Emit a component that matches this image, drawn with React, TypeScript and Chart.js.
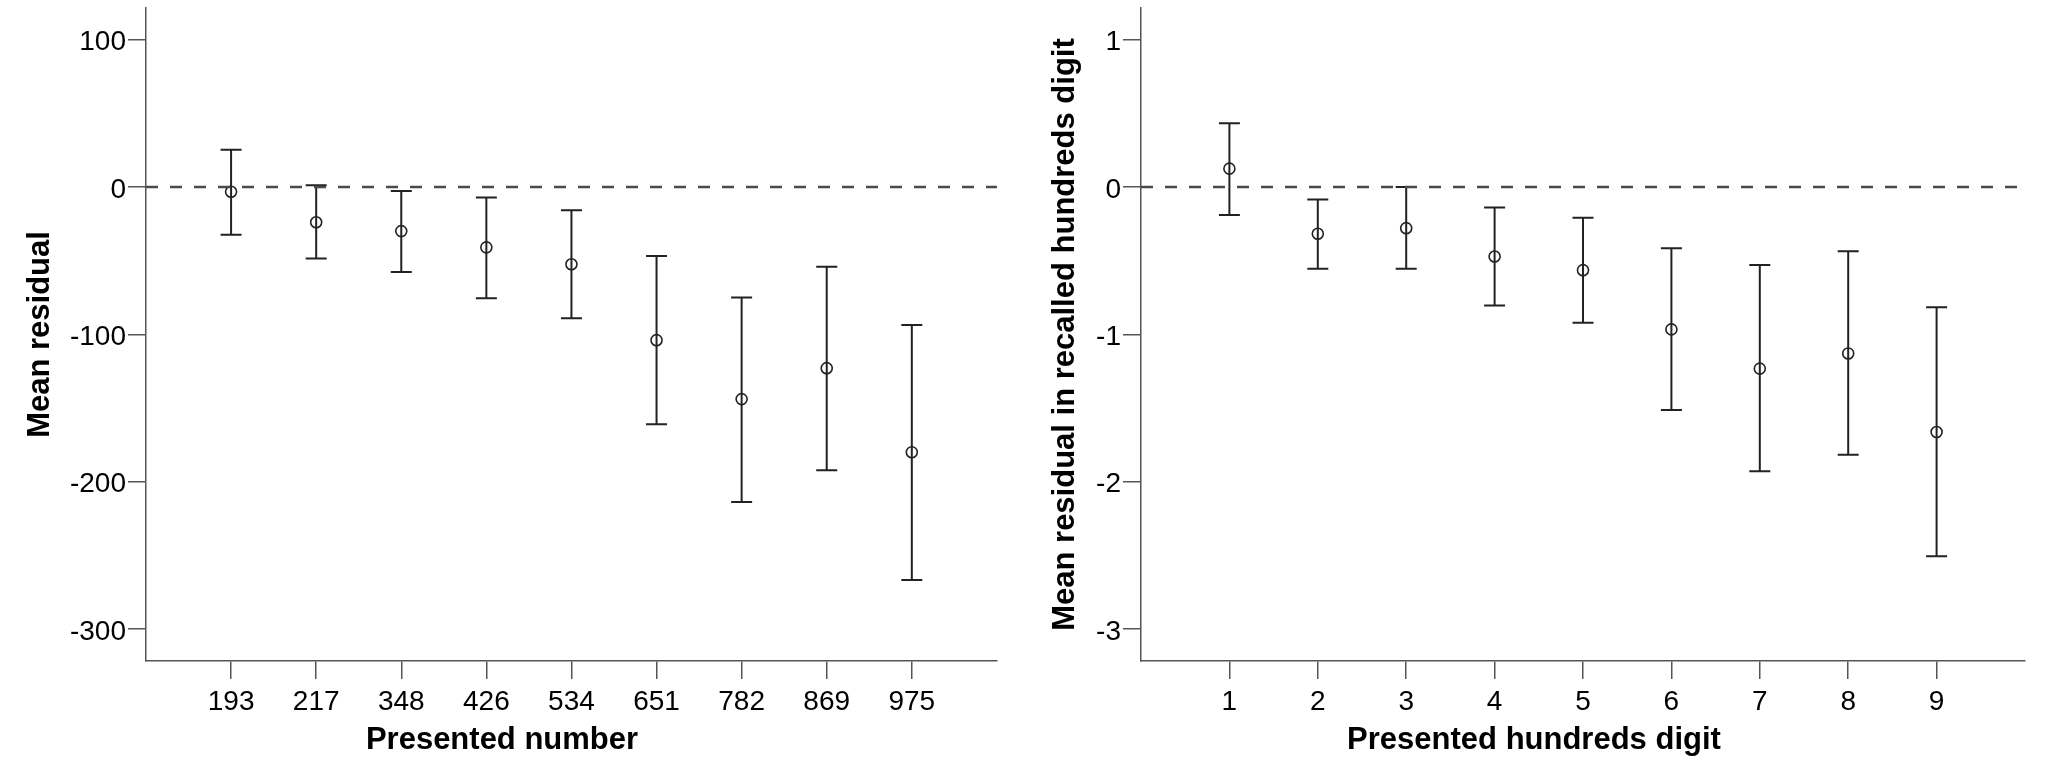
import { useEffect, useRef } from "react";
import { Chart, registerables } from "chart.js";

Chart.register(...registerables);

const FONT = "'Liberation Sans', Arial, Helvetica, sans-serif";

// left panel: presented number
const numberLabels = ["193", "217", "348", "426", "534", "651", "782", "869", "975"];
const numberMeans = [-3.3, -24, -30, -41, -52.5, -104, -144, -123, -180];
const numberUpper = [25.2, 1.2, -2.7, -7.2, -15.8, -46.9, -75.1, -54.1, -93.7];
const numberLower = [-32.4, -48.6, -57.7, -75.5, -89.2, -161, -213.8, -192.3, -266.7];
const numberTicks = [100, 0, -100, -200, -300];

// right panel: presented hundreds digit
const digitLabels = ["1", "2", "3", "4", "5", "6", "7", "8", "9"];
const digitMeans = [0.124, -0.318, -0.28, -0.472, -0.565, -0.967, -1.233, -1.13, -1.663];
const digitUpper = [0.432, -0.085, 0.0, -0.14, -0.21, -0.417, -0.53, -0.437, -0.817];
const digitLower = [-0.19, -0.555, -0.556, -0.805, -0.922, -1.513, -1.93, -1.817, -2.507];
const digitTicks = [1, 0, -1, -2, -3];

type PanelProps = {
  labels: string[];
  means: number[];
  upper: number[];
  lower: number[];
  yTicks: number[];
  yMin: number;
  yMax: number;
  yTitle: string;
  xTitle: string;
  yAxisWidth: number;
  yTitlePad: number;
  padRight: number;
};

function errorBarPlugin(upper: number[], lower: number[]) {
  return {
    id: "errorBars",
    beforeDatasetsDraw(chart: any) {
      const { ctx, scales } = chart;
      const x = scales.x;
      const y = scales.y;
      ctx.save();
      ctx.strokeStyle = "#222";
      ctx.lineWidth = 2;
      upper.forEach((u, i) => {
        const px = x.getPixelForValue(i + 1);
        const top = y.getPixelForValue(u);
        const bot = y.getPixelForValue(lower[i]);
        ctx.beginPath();
        ctx.moveTo(px, top);
        ctx.lineTo(px, bot);
        ctx.moveTo(px - 10.5, top);
        ctx.lineTo(px + 10.5, top);
        ctx.moveTo(px - 10.5, bot);
        ctx.lineTo(px + 10.5, bot);
        ctx.stroke();
      });
      ctx.restore();
    },
  };
}

// x title is centred on the whole panel, not on the plot area
function xTitlePlugin(text: string) {
  return {
    id: "xTitle",
    afterDraw(chart: any) {
      const { ctx } = chart;
      ctx.save();
      ctx.font = `bold 31px ${FONT}`;
      ctx.fillStyle = "#000";
      ctx.textAlign = "center";
      ctx.textBaseline = "alphabetic";
      ctx.fillText(text, chart.width / 2, 749);
      ctx.restore();
    },
  };
}

function Panel(props: PanelProps) {
  const {
    labels, means, upper, lower, yTicks, yMin, yMax,
    yTitle, xTitle, yAxisWidth, yTitlePad, padRight,
  } = props;
  const canvasRef = useRef<HTMLCanvasElement | null>(null);

  useEffect(() => {
    if (!canvasRef.current) return;

    const axisColor = "#555";
    const points = means.map((m, i) => ({ x: i + 1, y: m }));

    const chart = new Chart(canvasRef.current, {
      type: "scatter",
      data: {
        datasets: [
          {
            type: "line",
            data: [{ x: 0, y: 0 }, { x: labels.length + 1, y: 0 }],
            borderColor: "#4a4a4a",
            borderWidth: 2.5,
            borderDash: [12, 12],
            pointRadius: 0,
            fill: false,
          } as any,
          {
            data: points,
            pointRadius: 5.5,
            pointBorderWidth: 1.6,
            pointBorderColor: "#222",
            pointBackgroundColor: "rgba(0,0,0,0)",
          },
        ],
      },
      options: {
        animation: false,
        responsive: true,
        maintainAspectRatio: false,
        layout: { padding: { top: 8, right: padRight, left: 0, bottom: 0 } },
        plugins: { legend: { display: false }, tooltip: { enabled: false } },
        scales: {
          x: {
            type: "linear",
            min: 0,
            max: labels.length + 1,
            afterBuildTicks: (s: any) => {
              s.ticks = labels.map((_, i) => ({ value: i + 1 }));
            },
            afterFit: (s: any) => {
              s.height = 108;
              s.paddingLeft = 0;
              s.paddingRight = 0;
            },
            ticks: {
              callback: (_v: any, i: number) => labels[i],
              font: { family: FONT, size: 28 },
              color: "#000",
              padding: 6,
              autoSkip: false,
              maxRotation: 0,
            },
            grid: { drawOnChartArea: false, drawTicks: true, tickLength: 18, color: axisColor, lineWidth: 1.5 },
            border: { display: true, color: axisColor, width: 1.5 },
          },
          y: {
            type: "linear",
            min: yMin,
            max: yMax,
            afterBuildTicks: (s: any) => {
              s.ticks = yTicks.map((v) => ({ value: v }));
            },
            afterFit: (s: any) => {
              s.width = yAxisWidth;
              s.paddingTop = 0;
              s.paddingBottom = 0;
            },
            ticks: {
              callback: (v: any) => String(v),
              font: { family: FONT, size: 28 },
              color: "#000",
              padding: 2,
              labelOffset: 3,
            },
            grid: { drawOnChartArea: false, drawTicks: true, tickLength: 18, color: axisColor, lineWidth: 1.5 },
            border: { display: true, color: axisColor, width: 1.5 },
            title: {
              display: true,
              text: yTitle,
              color: "#000",
              font: { family: FONT, size: 31, weight: "bold" },
              padding: { top: yTitlePad, bottom: 0 },
            },
          },
        },
      },
      plugins: [errorBarPlugin(upper, lower), xTitlePlugin(xTitle)],
    });

    return () => chart.destroy();
  }, [labels, means, upper, lower, yTicks, yMin, yMax, yTitle, xTitle, yAxisWidth, yTitlePad, padRight]);

  return <canvas ref={canvasRef} />;
}

export default function App() {
  return (
    <div style={{ position: "fixed", left: 0, top: 0, width: 2055, height: 769, background: "#fff" }}>
      <div style={{ position: "absolute", left: 0, top: 0, width: 1004, height: 769 }}>
        <Panel
          labels={numberLabels}
          means={numberMeans}
          upper={numberUpper}
          lower={numberLower}
          yTicks={numberTicks}
          yMin={-321.7}
          yMax={121.4}
          yTitle="Mean residual"
          xTitle="Presented number"
          yAxisWidth={146}
          yTitlePad={22}
          padRight={7}
        />
      </div>
      <div style={{ position: "absolute", left: 1030, top: 0, width: 1008, height: 769 }}>
        <Panel
          labels={digitLabels}
          means={digitMeans}
          upper={digitUpper}
          lower={digitLower}
          yTicks={digitTicks}
          yMin={-3.217}
          yMax={1.214}
          yTitle="Mean residual in recalled hundreds digit"
          xTitle="Presented hundreds digit"
          yAxisWidth={111}
          yTitlePad={17}
          padRight={13}
        />
      </div>
    </div>
  );
}
